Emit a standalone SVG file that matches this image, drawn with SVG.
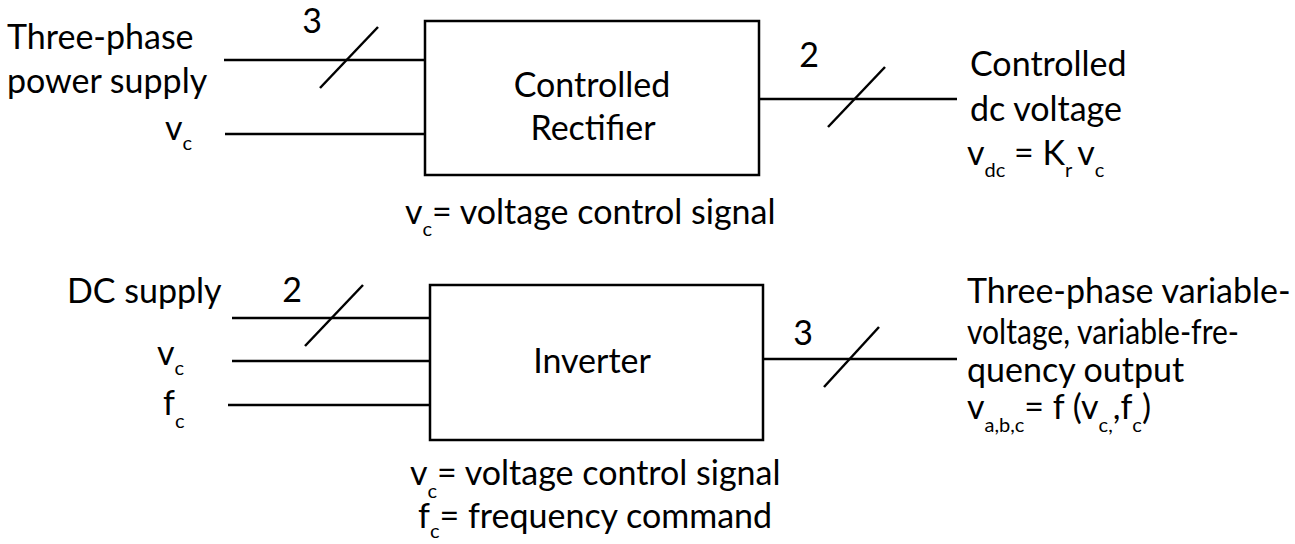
<svg xmlns="http://www.w3.org/2000/svg" width="1295" height="544" viewBox="0 0 1295 544">
<style>
text{font-family:Lato,"Open Sans",sans-serif;font-size:34px;fill:#000}
.sub{font-size:20px}
.box{fill:#fff;stroke:#000;stroke-width:2.5}
.ln{stroke:#000;stroke-width:2.5;fill:none}
.m{text-anchor:middle}
</style>
<rect width="1295" height="544" fill="#fff"/>
<g id="connectors">
<line class="ln" x1="224" y1="60" x2="425" y2="60"/>
<line class="ln" x1="320" y1="88" x2="378" y2="27"/>
<line class="ln" x1="225" y1="134" x2="425" y2="134"/>
<line class="ln" x1="759" y1="99" x2="957" y2="99"/>
<line class="ln" x1="828" y1="127" x2="885" y2="67"/>
<line class="ln" x1="232" y1="318" x2="430" y2="318"/>
<line class="ln" x1="305" y1="346" x2="363" y2="285"/>
<line class="ln" x1="232" y1="361" x2="430" y2="361"/>
<line class="ln" x1="228" y1="405" x2="430" y2="405"/>
<line class="ln" x1="763" y1="359" x2="957" y2="359"/>
<line class="ln" x1="824" y1="387" x2="879" y2="327"/>
</g>
<g id="rectifier">
<rect class="box" x="425" y="21" width="334" height="154"/>
<text class="m" x="592" y="97">Controlled</text>
<text class="m" x="593" y="140">Rectifier</text>
</g>
<g id="inverter">
<rect class="box" x="430" y="285" width="333" height="155"/>
<text class="m" x="592" y="373">Inverter</text>
</g>
<g id="labels">
<text x="7" y="49">Three-phase</text>
<text x="7" y="93">power supply</text>
<text x="165" y="140">v<tspan class="sub" dy="10">c</tspan></text>
<text class="m" x="312" y="33">3</text>
<text class="m" x="809" y="67">2</text>
<text x="970" y="76">Controlled</text>
<text x="970" y="121">dc voltage</text>
<text x="967" y="165">v<tspan class="sub" dy="12">dc</tspan><tspan dy="-12"> = K</tspan><tspan class="sub" dy="12">r</tspan><tspan dx="5" dy="-12">v</tspan><tspan class="sub" dy="12">c</tspan></text>
<text x="405" y="224">v<tspan class="sub" dy="12">c</tspan><tspan dy="-12">= voltage control signal</tspan></text>
<text x="67" y="303">DC supply</text>
<text class="m" x="292" y="302">2</text>
<text x="157" y="365">v<tspan class="sub" dy="10">c</tspan></text>
<text x="163" y="415">f<tspan class="sub" dy="13">c</tspan></text>
<text class="m" x="803" y="345">3</text>
<text x="967" y="303">Three-phase variable-</text>
<text x="967" y="344" textLength="272" lengthAdjust="spacingAndGlyphs">voltage, variable-fre-</text>
<text x="967" y="382">quency output</text>
<text x="967" y="419">v<tspan class="sub" dy="13">a,b,c</tspan><tspan dy="-13">= f (v</tspan><tspan class="sub" dy="13">c,</tspan><tspan dy="-13">,f</tspan><tspan class="sub" dy="13">c</tspan><tspan dy="-13">)</tspan></text>
<text x="410" y="485">v<tspan class="sub" dy="13">c</tspan><tspan dy="-13">= voltage control signal</tspan></text>
<text x="418" y="528">f<tspan class="sub" dy="10">c</tspan><tspan dy="-10">= frequency command</tspan></text>
</g>
</svg>
